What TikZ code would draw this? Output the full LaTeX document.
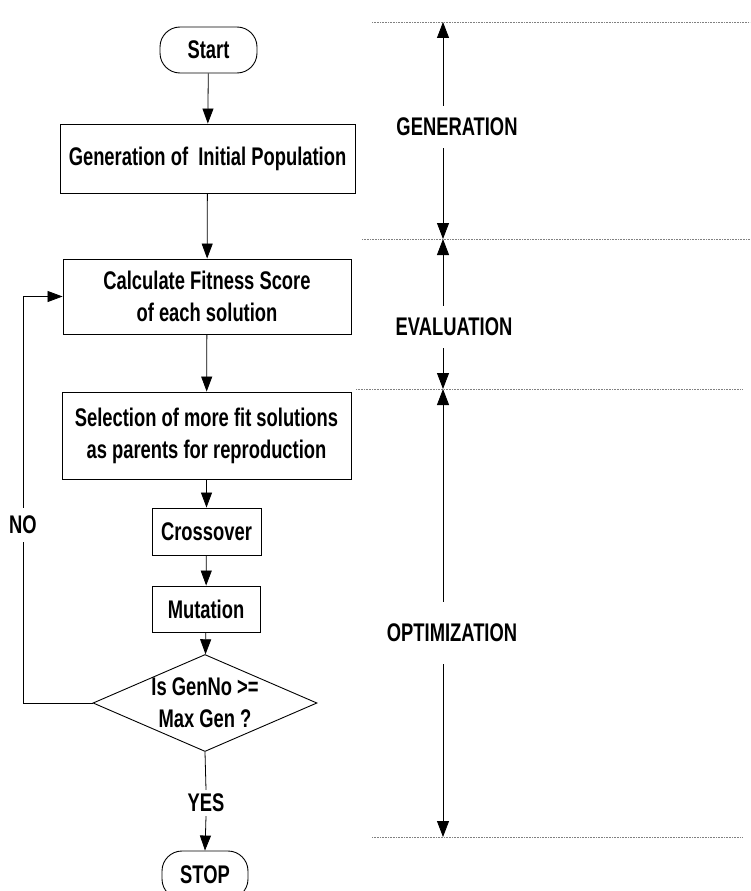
\documentclass[tikz,border=0pt]{standalone}
\usepackage{fontspec}
\setmainfont{Liberation Sans}[FakeStretch=0.72]
\usetikzlibrary{arrows.meta,shapes.geometric}
\begin{document}
\begin{tikzpicture}[x=1pt,y=-1pt,
  every node/.style={font=\fontsize{25.5}{32}\selectfont\bfseries},
  line/.style={line width=0.8pt},
  flow/.style={line, -{Triangle[length=15pt,width=11pt]}},
  stage/.style={line, -{Triangle[length=16pt,width=12pt]}},
  box/.style={draw, line width=0.9pt, align=center, inner sep=0pt},
  term/.style={box, rounded corners=20pt},
  decision/.style={box, diamond, aspect=2.3, minimum width=224pt, minimum height=97pt},
  sep/.style={line width=0.6pt, gray, densely dotted}]
\useasboundingbox (0,0) rectangle (750,891);
\clip (0,0) rectangle (750,891);

% flowchart
\node[term, minimum width=97pt, minimum height=46pt] (start) at (208.5,50) {Start};
\node[box, minimum width=295pt, minimum height=69pt] (gen) at (207.5,158.5) {Generation of\ \ Initial Population};
\node[box, minimum width=288pt, minimum height=75pt] (fit) at (207,296.5) {Calculate Fitness Score\\of each solution};
\node[box, minimum width=289pt, minimum height=87pt] (sel) at (206.5,435.5) {Selection of more fit solutions\\as parents for reproduction};
\node[box, minimum width=109pt, minimum height=47pt] (cross) at (206.5,531.5) {Crossover};
\node[box, minimum width=108pt, minimum height=46pt] (mut) at (206,609) {Mutation};
\node[decision] (dec) at (205,703) {Is GenNo >=\\Max Gen ?};
\node[term, minimum width=86pt, minimum height=48pt] (stop) at (205,875) {STOP};
\node[inner sep=4pt] (yes) at (206,803) {YES};
\node[inner sep=8pt] (no) at (23,525) {NO};
\coordinate (loop) at (23,703);

\draw[flow] (start) -- (gen);
\draw[flow] (gen) -- (fit);
\draw[flow] (fit) -- (sel);
\draw[flow] (sel) -- (cross);
\draw[flow] (cross) -- (mut);
\draw[flow] (mut) -- (dec);
\draw[line] (dec.south) -- (yes.north);
\draw[flow] (yes.south) -- (stop.north);
\draw[line] (dec.west) -- (loop) -- (no.south);
\draw[flow] (no.north) |- (fit.west);

% stage markers
\coordinate (s0) at (443,22);
\coordinate (s1) at (443,239);
\coordinate (s2) at (443,389);
\coordinate (s3) at (443,837);
\node[inner sep=12pt] (lg) at (457,127) {GENERATION};
\node[inner sep=12pt] (le) at (454,327) {EVALUATION};
\node[inner sep=22pt] (lo) at (452,633) {OPTIMIZATION};

\draw[sep] (372,22) -- (750,22);
\draw[sep] (362,239) -- (750,239);
\draw[sep] (356,389) -- (742,389);
\draw[sep] (372,837) -- (742,837);

\draw[stage] (lg.north -| s0) -- (s0);
\draw[stage] (lg.south -| s0) -- (s1);
\draw[stage] (le.north -| s1) -- (s1);
\draw[stage] (le.south -| s1) -- (s2);
\draw[stage] (lo.north -| s2) -- (s2);
\draw[stage] (lo.south -| s2) -- (s3);
\end{tikzpicture}
\end{document}
